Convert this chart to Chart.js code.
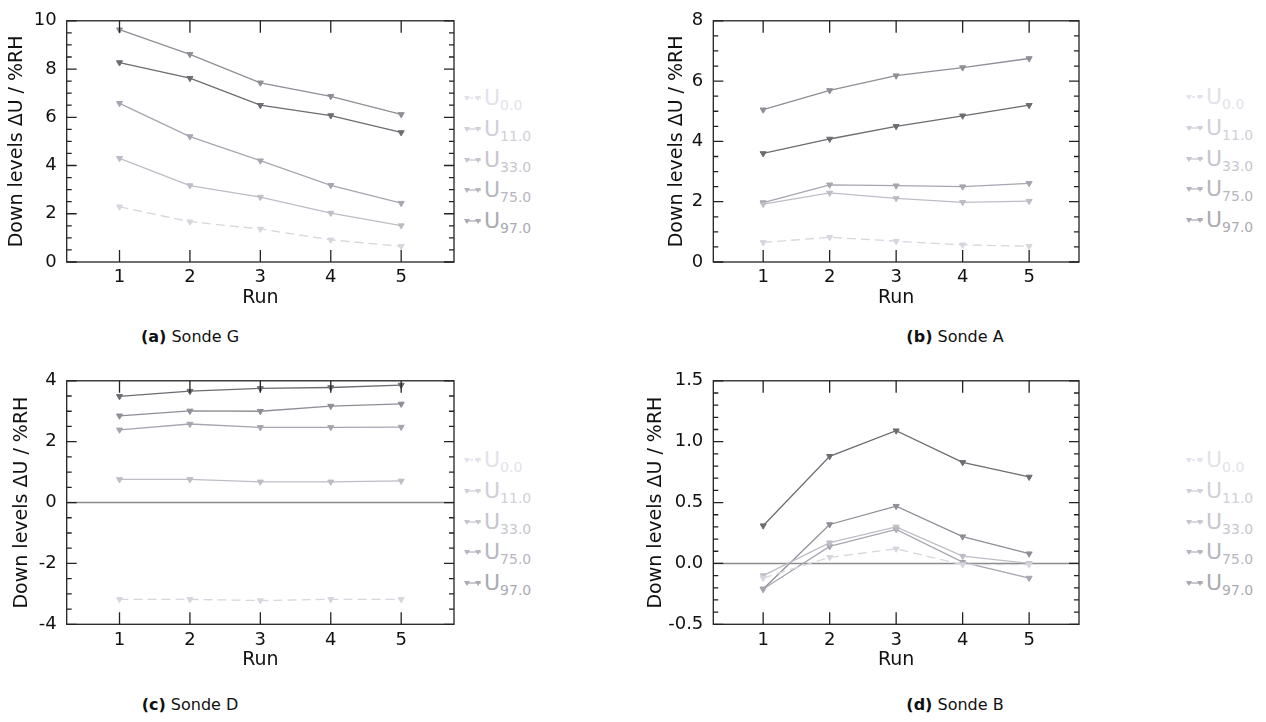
<!DOCTYPE html>
<html>
<head>
<meta charset="utf-8">
<script src="https://cdn.jsdelivr.net/npm/chart.js@4.4.1/dist/chart.umd.min.js"></script>
<style>
  body { margin: 0; background: #fff; font-family: "DejaVu Sans", sans-serif; }
  #page { position: relative; width: 1266px; height: 722px; overflow: hidden; }
  canvas { position: absolute; }
  .leg { position: absolute; height: 26px; display: flex; align-items: center; white-space: nowrap; }
  .leg span { font-size: 22px; margin-left: 1px; }
  .leg sub { font-size: 14px; vertical-align: -5px; }
  .cap { position: absolute; width: 300px; text-align: center; font-size: 16px; color: #111; }
</style>
</head>
<body>
<div id="page">
  <canvas id="chartG" width="460" height="310" style="left:0;top:0"></canvas>
  <canvas id="chartA" width="445" height="310" style="left:640px;top:0"></canvas>
  <canvas id="chartD" width="460" height="312" style="left:0;top:360px"></canvas>
  <canvas id="chartB" width="445" height="312" style="left:640px;top:360px"></canvas>
  <div class="cap" style="left:40px;top:327px"><b>(a)</b> Sonde G</div>
  <div class="cap" style="left:805px;top:327px"><b>(b)</b> Sonde A</div>
  <div class="cap" style="left:40px;top:695px"><b>(c)</b> Sonde D</div>
  <div class="cap" style="left:805px;top:695px"><b>(d)</b> Sonde B</div>
</div>
<script>
const runs = [1, 2, 3, 4, 5];
const levels = ["0.0", "11.0", "33.0", "75.0", "97.0"];

const lineColors = ["#d6d6de", "#bdbdc6", "#a6a6b0", "#8e8e96", "#6c6c72"];
const legendColors = ["#e2e2ea", "#d0d0d8", "#c6c6ce", "#b6b6c0", "#aaaab2"];

// Sonde G
const gU0 = [2.29, 1.67, 1.37, 0.92, 0.65];
const gU11 = [4.30, 3.17, 2.69, 2.03, 1.51];
const gU33 = [6.58, 5.20, 4.20, 3.18, 2.44];
const gU75 = [9.63, 8.61, 7.43, 6.87, 6.12];
const gU97 = [8.27, 7.62, 6.50, 6.07, 5.37];

// Sonde A
const aU0 = [0.65, 0.82, 0.69, 0.57, 0.52];
const aU11 = [1.92, 2.29, 2.11, 1.98, 2.02];
const aU33 = [1.97, 2.56, 2.53, 2.50, 2.61];
const aU75 = [5.05, 5.69, 6.18, 6.45, 6.75];
const aU97 = [3.60, 4.08, 4.50, 4.85, 5.20];

// Sonde D
const dU0 = [-3.18, -3.18, -3.22, -3.18, -3.18];
const dU11 = [0.76, 0.76, 0.68, 0.68, 0.71];
const dU33 = [2.39, 2.58, 2.47, 2.47, 2.48];
const dU75 = [2.85, 3.01, 3.00, 3.17, 3.24];
const dU97 = [3.49, 3.66, 3.75, 3.78, 3.86];

// Sonde B
const bU0 = [-0.12, 0.05, 0.12, -0.01, -0.01];
const bU11 = [-0.10, 0.17, 0.30, 0.06, 0.00];
const bU33 = [-0.21, 0.14, 0.28, 0.01, -0.12];
const bU75 = [-0.21, 0.32, 0.47, 0.22, 0.08];
const bU97 = [0.31, 0.88, 1.09, 0.83, 0.71];

const gTicks = [0, 2, 4, 6, 8, 10];
const aTicks = [0, 2, 4, 6, 8];
const dTicks = [-4, -2, 0, 2, 4];
const bTicks = [-0.5, 0, 0.5, 1.0, 1.5];
const bTickLabels = ["-0.5", "0.0", "0.5", "1.0", "1.5"];

const FONT = "DejaVu Sans";

// box, inward ticks and zero line
const framePlugin = {
    id: "frame",
    beforeDatasetsDraw(chart, args, opts) {
        if (!opts.zero) return;
        const a = chart.chartArea;
        const y0 = chart.scales.y.getPixelForValue(0);
        const c = chart.ctx;
        c.save();
        c.strokeStyle = "#8c8c8c";
        c.lineWidth = 1.6;
        c.beginPath();
        c.moveTo(a.left, y0);
        c.lineTo(a.right, y0);
        c.stroke();
        c.restore();
    },
    afterDraw(chart, args, opts) {
        const a = chart.chartArea;
        const xs = chart.scales.x, ys = chart.scales.y;
        const c = chart.ctx;
        c.save();
        c.strokeStyle = "#222";
        c.lineWidth = 1.3;
        c.strokeRect(a.left, a.top, a.right - a.left, a.bottom - a.top);
        c.beginPath();
        runs.forEach(r => {
            const x = xs.getPixelForValue(r);
            c.moveTo(x, a.bottom); c.lineTo(x, a.bottom - 12);
            c.moveTo(x, a.top); c.lineTo(x, a.top + 12);
        });
        const n = Math.round((ys.max - ys.min) / opts.minor);
        for (let i = 0; i <= n; i++) {
            const v = ys.min + i * opts.minor;
            const y = ys.getPixelForValue(v);
            const major = ys.ticks.some(t => Math.abs(t.value - v) < 1e-6);
            const len = major ? 10 : 5;
            c.moveTo(a.left, y); c.lineTo(a.left + len, y);
            c.moveTo(a.right, y); c.lineTo(a.right - len, y);
        }
        c.stroke();
        c.restore();
    }
};

function makeChart(id, rows, yTicks, yLabels, minor, zero, yWidth, titlePad, padTop, padRight, xHeight) {
    const datasets = rows.map((vals, i) => ({
        label: "U" + levels[i],
        data: runs.map((r, j) => ({ x: r, y: vals[j] })),
        borderColor: lineColors[i],
        backgroundColor: lineColors[i],
        borderWidth: 1.3,
        borderDash: i === 0 ? [9, 5] : [],
        pointStyle: "triangle",
        rotation: 180,
        pointRadius: 3.5,
        pointBorderWidth: 1,
        tension: 0
    }));
    return new Chart(id, {
        type: "line",
        data: { datasets: datasets },
        options: {
            responsive: false,
            animation: false,
            devicePixelRatio: 1,
            layout: { padding: { top: padTop, right: padRight, left: 0, bottom: 0 } },
            plugins: {
                legend: { display: false },
                tooltip: { enabled: false },
                frame: { minor: minor, zero: zero }
            },
            scales: {
                x: {
                    type: "linear",
                    min: 0.25,
                    max: 5.75,
                    afterBuildTicks: s => { s.ticks = runs.map(v => ({ value: v })); },
                    afterFit: s => { s.height = xHeight; },
                    grid: { display: false, drawTicks: false },
                    border: { display: false },
                    ticks: { padding: 5, color: "#111", font: { family: FONT, size: 18 } },
                    title: { display: true, text: "Run", color: "#111", font: { family: FONT, size: 19 }, padding: { top: 0, bottom: 1 } }
                },
                y: {
                    type: "linear",
                    min: yTicks[0],
                    max: yTicks[yTicks.length - 1],
                    afterBuildTicks: s => { s.ticks = yTicks.map(v => ({ value: v })); },
                    afterFit: s => { s.width = yWidth; },
                    grid: { display: false, drawTicks: false },
                    border: { display: false },
                    ticks: {
                        padding: 10, color: "#111", font: { family: FONT, size: 18 },
                        callback: (v, i) => yLabels ? yLabels[i] : String(v)
                    },
                    title: { display: true, text: "Down levels ΔU / %RH", color: "#111", font: { family: FONT, size: 19 }, padding: { top: titlePad, bottom: 0 } }
                }
            }
        },
        plugins: [framePlugin]
    });
}

makeChart("chartG", [gU0, gU11, gU33, gU75, gU97], gTicks, null, 0.5, false, 66.7, 6.1, 17, 6, 48);
makeChart("chartA", [aU0, aU11, aU33, aU75, aU97], aTicks, null, 0.5, false, 73.3, 26.1, 17, 6, 48);
makeChart("chartD", [dU0, dU11, dU33, dU75, dU97], dTicks, null, 0.5, true, 66.7, 10.6, 19, 6, 47.7);
makeChart("chartB", [bU0, bU11, bU33, bU75, bU97], bTicks, bTickLabels, 0.1, true, 73.3, 4.6, 16.7, 6, 47.7);

// legends with subscripts
function makeLegend(left, firstCenter) {
    const page = document.getElementById("page");
    levels.forEach((lv, i) => {
        const col = legendColors[i];
        const row = document.createElement("div");
        row.className = "leg";
        row.style.left = left + "px";
        row.style.top = (firstCenter + i * 30.8 - 13) + "px";
        row.style.color = col;
        const dash = i === 0 ? ' stroke-dasharray="3,2"' : "";
        row.innerHTML =
            '<svg width="20" height="10"><line x1="2" y1="4" x2="18" y2="4" stroke="' + col + '" stroke-width="1.3"' + dash + '/>' +
            '<polygon points="1,2 7,2 4,7" fill="' + col + '"/><polygon points="12,2 18,2 15,7" fill="' + col + '"/></svg>' +
            '<span>U<sub>' + lv + '</sub></span>';
        page.appendChild(row);
    });
}
makeLegend(463, 99);
makeLegend(1185, 98);
makeLegend(463, 461);
makeLegend(1185, 461);
</script>
</body>
</html>
